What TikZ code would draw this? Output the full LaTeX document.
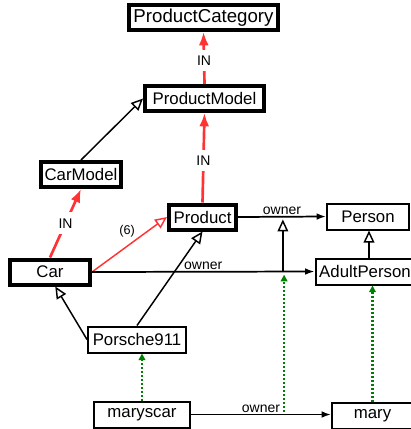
\documentclass[tikz,border=0pt]{standalone}
\usepackage{fontspec}
\setmainfont{Liberation Sans}
\usetikzlibrary{arrows.meta}
\definecolor{inred}{RGB}{255,51,51}
\definecolor{isgreen}{RGB}{0,128,0}

\begin{document}
\begin{tikzpicture}[x=0.75pt,y=-0.75pt,
  cls/.style={draw,line width=3pt,inner sep=0pt,minimum height=18.75pt,font=\fontsize{12.6}{14}\selectfont},
  ind/.style={draw,line width=1.5pt,inner sep=0pt,minimum height=19.5pt,font=\fontsize{12.6}{14}\selectfont},
  lbl/.style={font=\fontsize{10.5}{12}\selectfont,inner sep=1pt},
  inlbl/.style={font=\fontsize{10.5}{12}\selectfont,fill=white,inner xsep=1pt,inner ysep=4.5pt},
  inedge/.style={draw=inred,line width=2pt,-{Latex[length=10pt,width=7.5pt]}},
  sub/.style={line width=1.1pt,-{Triangle[open,length=9pt,width=8pt,fill=white]}},
  prop/.style={line width=1.3pt,-{Latex[length=7pt,width=5pt]}},
  inst/.style={draw=isgreen,line width=1.8pt,dash pattern=on 1.5pt off 1.5pt,-{Triangle[length=5pt,width=5pt]}}]
  \useasboundingbox (0,0) rectangle (411,429);
  \node[cls,minimum width=111.75pt,font=\fontsize{14}{16}\selectfont] (cat) at (203.5,17.5) {ProductCategory};
  \foreach \n/\x/\y/\w/\t in {pm/204.5/98.5/89.25/ProductModel,carmodel/81/174.5/60/CarModel,product/202.5/217/50.25/Product,car/50/272/60/Car}
    \node[cls,minimum width=\w pt] (\n) at (\x,\y) {\t};
  \foreach \n/\x/\y/\w/\t in {person/368/216.5/61.5/Person,adult/365/271.5/74.25/AdultPerson,porsche/137/339.5/73.5/Porsche911,maryscar/142/414.5/72/maryscar,mary/372.5/415.5/60.75/mary}
    \node[ind,minimum width=\w pt] (\n) at (\x,\y) {\t};

  \draw[inedge] (pm.north) -- (cat.south) node[pos=0.45,inlbl] {IN};
  \draw[inedge] (product.north) -- (pm.south) node[pos=0.47,inlbl] {IN};
  \draw[inedge] (car.north) -- (carmodel.south) node[midway,inlbl] {IN};
  \draw[sub] (carmodel.north) -- (pm.west);
  \draw[sub,draw=inred] (car.east) -- (product.west) node[pos=0.6,above left,inner sep=1pt,font=\fontsize{9.5}{11}\selectfont] {(6)};
  \draw[prop] (product.east) -- (person.west) node[midway,above,lbl] {owner} coordinate[pos=0.51] (o1);
  \draw[prop] (car.east) -- (adult.west) node[midway,above,lbl] {owner};
  \draw[sub,shorten >=2pt] (o1 |- car.east) -- (o1);
  \draw[sub] ([xshift=3pt]adult.north) -- ([xshift=3pt]adult.north |- person.south);
  \draw[sub] (porsche.west) -- (car.-70);
  \draw[sub] (porsche.north) -- (product.south);
  \draw[prop] (maryscar.east) -- (maryscar.east -| mary.west) node[midway,above,lbl] {owner} coordinate[pos=0.665] (o2);
  \draw[inst] (maryscar.north) -- (maryscar.north |- porsche.south);
  \draw[inst,shorten <=2pt,shorten >=2pt] (o2) -- (o2 |- car.east);
  \draw[inst] (mary.north) -- (mary.north |- adult.south);
\end{tikzpicture}
\end{document}
